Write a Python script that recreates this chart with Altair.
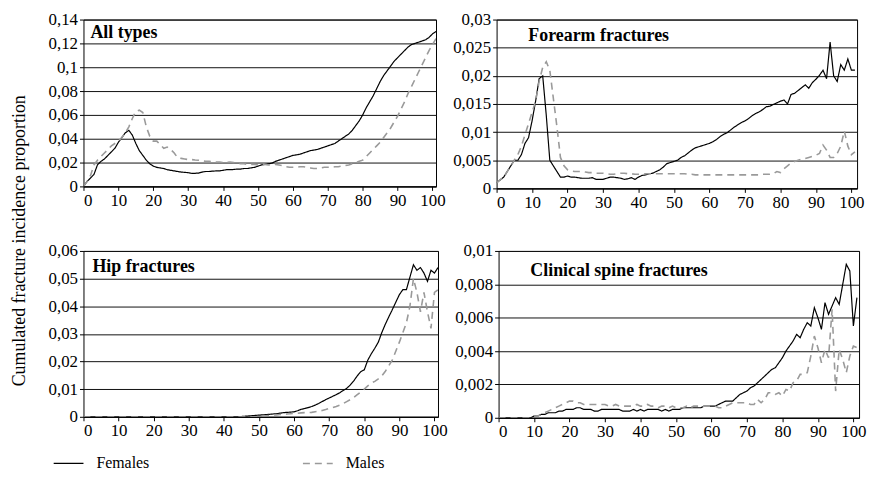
import altair as alt
import pandas as pd

AGES = list(range(102))

# All types
AT_F = [0.000, 0.004, 0.007, 0.010, 0.018, 0.021, 0.023, 0.026, 0.029, 0.032,
        0.037, 0.041, 0.045, 0.047, 0.043, 0.036, 0.030, 0.026, 0.022, 0.019,
        0.017, 0.016, 0.0155, 0.015, 0.014, 0.0135, 0.013, 0.0125, 0.012, 0.0118,
        0.0115, 0.011, 0.011, 0.0112, 0.012, 0.0125, 0.0125, 0.0128, 0.013, 0.013,
        0.0135, 0.014, 0.014, 0.0142, 0.0145, 0.0145, 0.015, 0.015, 0.0155, 0.016,
        0.017, 0.018, 0.0185, 0.019, 0.0195, 0.021, 0.022, 0.023, 0.024, 0.025,
        0.026, 0.0265, 0.027, 0.028, 0.029, 0.030, 0.0305, 0.031, 0.032, 0.033,
        0.034, 0.035, 0.036, 0.038, 0.040, 0.042, 0.044, 0.047, 0.051, 0.055,
        0.060, 0.066, 0.071, 0.076, 0.082, 0.088, 0.093, 0.097, 0.101, 0.105,
        0.108, 0.111, 0.114, 0.117, 0.119, 0.120, 0.121, 0.122, 0.123, 0.125,
        0.128, 0.130]
AT_M = [0.000, 0.004, 0.009, 0.018, 0.022, 0.025, 0.028, 0.031, 0.034, 0.036,
        0.038, 0.041, 0.045, 0.050, 0.057, 0.063, 0.064, 0.062, 0.050, 0.042,
        0.038, 0.038, 0.035, 0.032, 0.033, 0.031, 0.028, 0.024, 0.0235, 0.023,
        0.0225, 0.0225, 0.0222, 0.022, 0.0215, 0.021, 0.021, 0.0205, 0.0205, 0.0205,
        0.020, 0.020, 0.0205, 0.020, 0.0195, 0.019, 0.019, 0.0185, 0.0185, 0.0185,
        0.018, 0.0185, 0.0185, 0.018, 0.018, 0.0185, 0.018, 0.0175, 0.0165, 0.016,
        0.016, 0.016, 0.0165, 0.0165, 0.016, 0.0155, 0.015, 0.015, 0.0155, 0.016,
        0.016, 0.016, 0.0165, 0.0165, 0.017, 0.0175, 0.018, 0.019, 0.020, 0.021,
        0.022, 0.025, 0.028, 0.031, 0.034, 0.037, 0.041, 0.045, 0.049, 0.054,
        0.059, 0.065, 0.071, 0.078, 0.084, 0.090, 0.096, 0.102, 0.108, 0.114,
        0.119, 0.124]

# Forearm fractures
FA_F = [0.001, 0.0015, 0.002, 0.003, 0.004, 0.005, 0.005, 0.006, 0.008, 0.009,
        0.012, 0.0155, 0.0195, 0.020, 0.013, 0.005, 0.004, 0.003, 0.002, 0.002,
        0.0022, 0.002, 0.002, 0.0019, 0.0018, 0.0018, 0.0018, 0.0019, 0.0016, 0.0016,
        0.0016, 0.0018, 0.002, 0.002, 0.0019, 0.0018, 0.0016, 0.0017, 0.0019, 0.0016,
        0.002, 0.0023, 0.0024, 0.0026, 0.0027, 0.003, 0.0033, 0.0038, 0.0044, 0.0046,
        0.0048, 0.005, 0.0055, 0.0058, 0.0063, 0.0068, 0.0072, 0.0074, 0.0076, 0.0078,
        0.008, 0.0083, 0.0087, 0.0092, 0.0096, 0.0099, 0.0104, 0.0109, 0.0113, 0.0117,
        0.012, 0.0124, 0.0129, 0.0133, 0.0136, 0.014, 0.0145, 0.0146, 0.0149, 0.0152,
        0.0155, 0.0157, 0.015, 0.0167, 0.0169, 0.0174, 0.0179, 0.0184, 0.0178, 0.0188,
        0.0194, 0.0201, 0.021, 0.0195, 0.026, 0.020, 0.019, 0.022, 0.021, 0.023,
        0.021, 0.021]
FA_M = [0.001, 0.0015, 0.002, 0.003, 0.004, 0.005, 0.006, 0.0075, 0.0095, 0.0115,
        0.0135, 0.0155, 0.019, 0.0215, 0.0225, 0.021, 0.016, 0.011, 0.0055, 0.004,
        0.0033, 0.0031, 0.003, 0.003, 0.003, 0.0029, 0.0028, 0.0028, 0.0027, 0.0027,
        0.0027, 0.0026, 0.0025, 0.0025, 0.0026, 0.0027, 0.0027, 0.0026, 0.0026, 0.0025,
        0.0025, 0.0025, 0.0026, 0.0026, 0.0026, 0.0026, 0.0026, 0.0026, 0.0026, 0.0026,
        0.0026, 0.0026, 0.0026, 0.0026, 0.0025, 0.0025, 0.0024, 0.0024, 0.0024, 0.0024,
        0.0024, 0.0024, 0.0024, 0.0024, 0.0024, 0.0024, 0.0024, 0.0024, 0.0024, 0.0024,
        0.0024, 0.0024, 0.0024, 0.0024, 0.0024, 0.0025, 0.0025, 0.0025, 0.0026, 0.003,
        0.0028, 0.0035, 0.004, 0.0045, 0.0048, 0.005, 0.0052, 0.0053, 0.0055, 0.0057,
        0.0059, 0.0062, 0.0077, 0.0068, 0.0055, 0.0055, 0.0062, 0.0075, 0.0102, 0.0075,
        0.006, 0.0065]

# Hip fractures
HIP_F = [0.0] * 45 + [
        0.0001, 0.0002, 0.0003, 0.0004, 0.0005,
        0.0006, 0.0007, 0.0008, 0.0009, 0.001, 0.0011, 0.0013, 0.0015, 0.0016, 0.0017,
        0.0018, 0.0022, 0.0027, 0.003, 0.0033, 0.0037, 0.0042, 0.0048, 0.0055, 0.0062,
        0.0068, 0.0074, 0.008, 0.0087, 0.0095, 0.0103, 0.0115, 0.013, 0.0148, 0.0163,
        0.017, 0.0205, 0.0228, 0.0248, 0.027, 0.0305, 0.0335, 0.0362, 0.0388, 0.0415,
        0.0442, 0.046, 0.046, 0.0505, 0.055, 0.053, 0.054, 0.052, 0.049, 0.053,
        0.052, 0.054]
HIP_M = [0.0] * 51 + [
        0.0003, 0.0004, 0.0005, 0.0006, 0.0007, 0.0008, 0.0009, 0.001, 0.0011,
        0.0012, 0.0013, 0.0014, 0.0015, 0.0015, 0.0016, 0.0018, 0.002, 0.0023, 0.0026,
        0.003, 0.0033, 0.0037, 0.0042, 0.0048, 0.0055, 0.0062, 0.007, 0.008, 0.009,
        0.010, 0.0112, 0.0122, 0.0128, 0.0137, 0.0148, 0.0165, 0.0185, 0.0206, 0.0238,
        0.027, 0.0305, 0.034, 0.040, 0.050, 0.045, 0.038, 0.045, 0.038, 0.032,
        0.045, 0.046]

# Clinical spine fractures
SP_F = [0.0] * 10 + [
        0.0001, 0.0001, 0.0002, 0.0002, 0.0003, 0.0003, 0.0003, 0.0004, 0.0004, 0.0005,
        0.0005, 0.0005, 0.0006, 0.0006, 0.0005, 0.0005, 0.0005, 0.0004, 0.0004, 0.0005,
        0.0005, 0.0005, 0.0005, 0.0005, 0.0005, 0.0004, 0.0004, 0.0004, 0.0005, 0.0004,
        0.0005, 0.0004, 0.0005, 0.0005, 0.0005, 0.0005, 0.0004, 0.0005, 0.0004, 0.0005,
        0.0005, 0.0005, 0.0006, 0.0006, 0.0006, 0.0006, 0.0006, 0.0006, 0.0007, 0.0007,
        0.0007, 0.0007, 0.0008, 0.0009, 0.001, 0.001, 0.001, 0.0012, 0.0014, 0.0015,
        0.0016, 0.0018, 0.0019, 0.0021, 0.0023, 0.0025, 0.0027, 0.0029, 0.003, 0.0033,
        0.0036, 0.004, 0.0043, 0.0046, 0.005, 0.0048, 0.0053, 0.0057, 0.0055, 0.0066,
        0.006, 0.0053, 0.0069, 0.0062, 0.0067, 0.0072, 0.0068, 0.008, 0.0092, 0.0088,
        0.0055, 0.0072]
SP_M = [0.0] * 10 + [
        0.0001, 0.0001, 0.0002, 0.0003, 0.0004, 0.0005, 0.0006, 0.0007, 0.0008, 0.0009,
        0.001, 0.001, 0.0009, 0.0009, 0.0008, 0.0008, 0.0008, 0.0008, 0.0008, 0.0008,
        0.0008, 0.0007, 0.0007, 0.0008, 0.0007, 0.0007, 0.0007, 0.0007, 0.0007, 0.0008,
        0.0007, 0.0007, 0.0008, 0.0007, 0.0007, 0.0006, 0.0007, 0.0007, 0.0006, 0.0007,
        0.0006, 0.0006, 0.0006, 0.0007, 0.0006, 0.0007, 0.0007, 0.0007, 0.0007, 0.0007,
        0.0007, 0.0007, 0.0006, 0.0006, 0.0007, 0.0008, 0.0009, 0.0009, 0.0009, 0.0009,
        0.0009, 0.0008, 0.0008, 0.0011, 0.0009, 0.0011, 0.0015, 0.0015, 0.0014, 0.0015,
        0.0013, 0.0017, 0.0016, 0.0021, 0.0022, 0.0026, 0.0026, 0.0027, 0.0037, 0.0049,
        0.0042, 0.0033, 0.0041, 0.0036, 0.0065, 0.0016, 0.0041, 0.0035, 0.0027, 0.0037,
        0.0043, 0.0042]

SEXES = ["Females", "Males"]
X_TICKS = [0, 10, 20, 30, 40, 50, 60, 70, 80, 90, 100]

PANELS = [
    ("All types", AT_F, AT_M, [0, 0.02, 0.04, 0.06, 0.08, 0.1, 0.12, 0.14], 101, 355, 168, 7, 14),
    ("Forearm fractures", FA_F, FA_M, [0, 0.005, 0.01, 0.015, 0.02, 0.025, 0.03], 101.6, 363, 170, 32, 17),
    ("Hip fractures", HIP_F, HIP_M, [0, 0.01, 0.02, 0.03, 0.04, 0.05, 0.06], 101, 357, 167, 9, 16),
    ("Clinical spine fractures", SP_F, SP_M, [0, 0.002, 0.004, 0.006, 0.008, 0.01], 101.6, 363, 168, 32, 20),
]

SERIF = "Liberation Serif"

LEGEND = dict(title=None, orient="none", legendX=-31, legendY=431,
              direction="horizontal", symbolType="stroke",
              symbolSize=900, symbolStrokeWidth=1.5,
              labelFont=SERIF, labelFontSize=16, labelColor="black",
              labelOffset=12, columnPadding=150, columns=2)


def make_panel(title, fem, mal, yticks, xmax, w, h, tx, ty):
    df = pd.DataFrame({
        "age": AGES * 2,
        "value": fem + mal,
        "sex": [SEXES[0]] * len(AGES) + [SEXES[1]] * len(AGES),
    })
    lines = alt.Chart(df).mark_line(clip=True).encode(
        x=alt.X("age:Q", scale=alt.Scale(domain=[0, xmax], nice=False, zero=False),
                axis=alt.Axis(values=X_TICKS, title=None, grid=False, format="d",
                              labelFont=SERIF, labelFontSize=17)),
        y=alt.Y("value:Q", scale=alt.Scale(domain=[0, yticks[-1]], nice=False),
                axis=alt.Axis(values=yticks, title=None, grid=True, labelFont=SERIF, labelFontSize=17,
                              labelExpr="replace(format(datum.value, '~g'), '.', ',')")),
        color=alt.Color("sex:N", scale=alt.Scale(domain=SEXES, range=["#000000", "#9a9a9a"]),
                        legend=alt.Legend(**LEGEND)),
        strokeDash=alt.StrokeDash("sex:N", scale=alt.Scale(domain=SEXES, range=[[1, 0], [7, 5]]),
                                  legend=alt.Legend(**LEGEND)),
        strokeWidth=alt.StrokeWidth("sex:N", scale=alt.Scale(domain=SEXES, range=[1.2, 1.6]), legend=None),
    )
    label = alt.Chart(pd.DataFrame({"t": [title]})).mark_text(
        align="left", baseline="middle", font=SERIF, fontSize=18, fontWeight="bold", color="black"
    ).encode(text="t:N", x=alt.value(tx), y=alt.value(ty))
    return alt.layer(lines, label).properties(width=w, height=h)


p = [make_panel(*args) for args in PANELS]

chart = alt.vconcat(
    alt.hconcat(p[0], p[1], spacing=6),
    alt.hconcat(p[2], p[3], spacing=6),
    spacing=30,
).properties(
    title=alt.TitleParams("Cumulated fracture incidence proportion", orient="left", anchor="middle",
                          font=SERIF, fontSize=18, fontWeight="normal", color="black", offset=19),
    padding={"left": 2, "top": 0, "right": 0, "bottom": 5},
).configure(
    font=SERIF
).configure_view(
    stroke="black", strokeWidth=1
).configure_axis(
    labelFont=SERIF, labelFontSize=17, labelColor="black",
    domainColor="black", tickColor="black", tickSize=4, labelPadding=2,
    gridColor="#111111", gridWidth=1, gridOpacity=1,
).configure_axisY(
    domain=False
)

chart.save("out.html", embed_options={"renderer": "svg", "actions": False})
